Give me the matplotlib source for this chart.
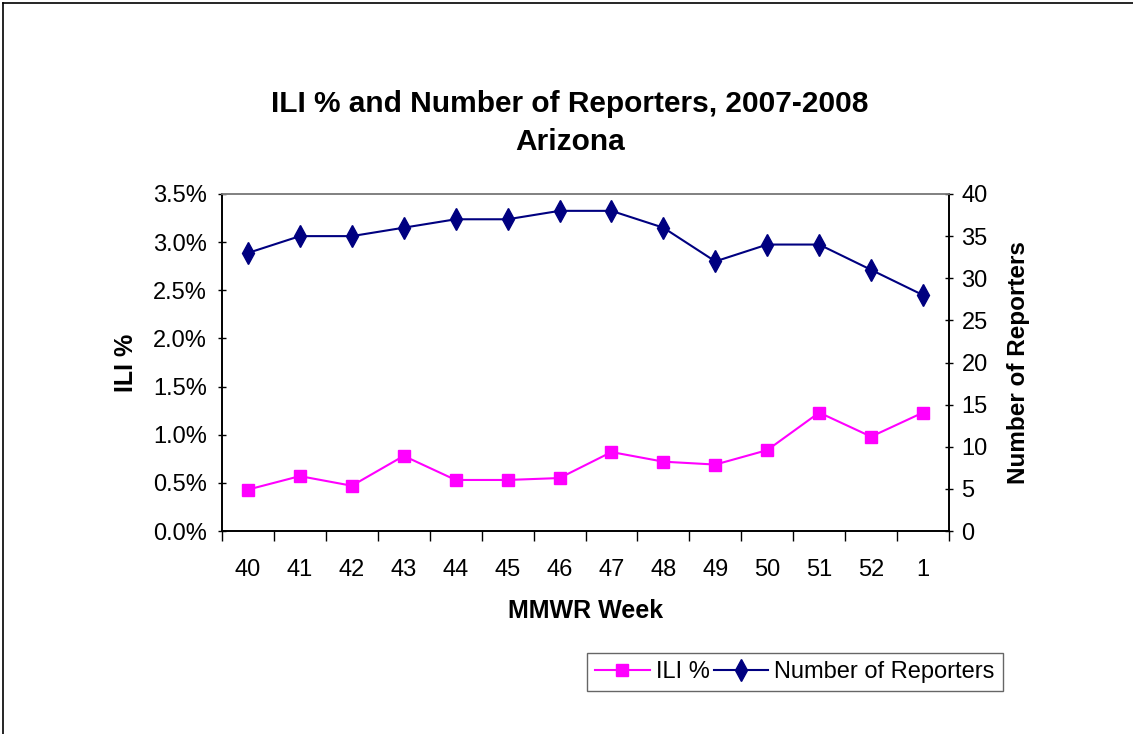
import matplotlib

matplotlib.use("Agg")

import matplotlib.pyplot as plt
from matplotlib.lines import Line2D
from matplotlib.ticker import FixedLocator, FuncFormatter

plt.rcParams["font.family"] = ["Liberation Sans", "DejaVu Sans"]

weeks = ["40", "41", "42", "43", "44", "45", "46", "47", "48", "49", "50", "51", "52", "1"]
ili_pct = [0.43, 0.57, 0.47, 0.78, 0.53, 0.53, 0.55, 0.82, 0.72, 0.69, 0.84, 1.23, 0.98, 1.23]
reporters = [33, 35, 35, 36, 37, 37, 38, 38, 36, 32, 34, 34, 31, 28]

W, H = 1133, 734
fig = plt.figure(figsize=(W / 100, H / 100), dpi=100)
ax = fig.add_axes([222 / W, 1 - 531 / H, (949 - 222) / W, (531 - 194) / H])
ax2 = ax.twinx()

x = list(range(len(weeks)))
ax.plot(x, ili_pct, color="#ff00ff", marker="s", markersize=9, linewidth=1.5, label="ILI %")
ax2.plot(x, reporters, color="#000080", marker="d", markersize=11, linewidth=1.5,
         label="Number of Reporters")

ax.set_xlim(-0.5, len(weeks) - 0.5)
ax.set_ylim(0, 3.5)
ax.set_yticks([i * 0.5 for i in range(8)])
ax.yaxis.set_major_formatter(FuncFormatter(lambda v, _: f"{v:.1f}%"))
ax2.set_ylim(0, 40)
ax2.set_yticks(range(0, 41, 5))

ax.set_xticks(x)
ax.set_xticklabels(weeks)
ax.xaxis.set_minor_locator(FixedLocator([i - 0.5 for i in range(len(weeks) + 1)]))
ax.tick_params(axis="x", which="major", length=0, pad=20, labelsize=17)
ax.tick_params(axis="x", which="minor", length=7, width=1, direction="out")
ax.tick_params(axis="y", length=6, width=1, direction="inout", labelsize=17, pad=8)
ax2.tick_params(axis="y", length=6, width=1, direction="inout", labelsize=17, pad=6)

for a in (ax, ax2):
    for side in ("left", "right", "bottom"):
        a.spines[side].set_color("black")
        a.spines[side].set_linewidth(1.2)
    a.spines["top"].set_color("#808080")
    a.spines["top"].set_linewidth(1.2)

ax.set_xlabel("MMWR Week", fontsize=18, fontweight="bold", labelpad=13)
ax.set_ylabel("ILI %", fontsize=18, fontweight="bold", labelpad=11)
ax2.set_ylabel("Number of Reporters", fontsize=17.5, fontweight="bold", labelpad=14)

fig.text(570 / W, 1 - 123 / H, "ILI % and Number of Reporters, 2007-2008\nArizona",
         ha="center", va="center", fontsize=21.5, fontweight="bold", linespacing=1.5)

h1, l1 = ax.get_legend_handles_labels()
h2, l2 = ax2.get_legend_handles_labels()
fig.legend(h1 + h2, l1 + l2, loc="center", bbox_to_anchor=(795 / W, 1 - 672 / H), ncol=2,
           fontsize=17, frameon=True, fancybox=False, edgecolor="#404040",
           handlelength=2.3, columnspacing=0.2, handletextpad=0.25, borderpad=0.35,
           borderaxespad=0.2)

fig.add_artist(Line2D([3 / W, 3 / W], [0, 1 - 3 / H], color="black", linewidth=1.2))
fig.add_artist(Line2D([3 / W, 1], [1 - 3 / H, 1 - 3 / H], color="black", linewidth=1.2))

fig.savefig("out.png", dpi=100)
